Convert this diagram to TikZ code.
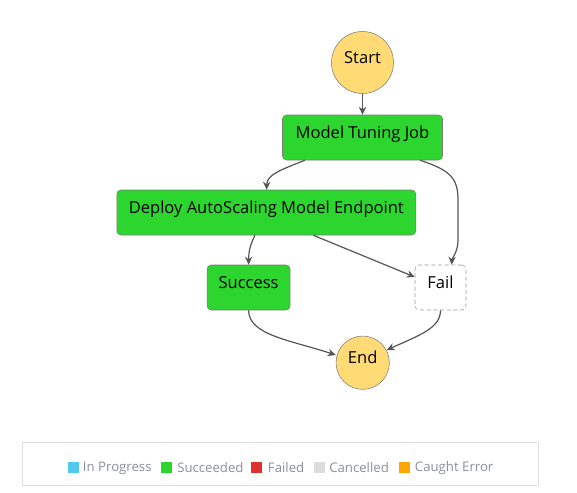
\documentclass[tikz,border=0pt]{standalone}
\usepackage{fontspec}
\setmainfont{Open Sans}
\usetikzlibrary{calc}
\usetikzlibrary{arrows.meta}

\definecolor{succeeded}{RGB}{44,214,46}
\definecolor{terminal}{RGB}{255,218,117}
\definecolor{edgegray}{RGB}{85,85,85}
\definecolor{rimgray}{RGB}{120,125,120}
\definecolor{inprogress}{RGB}{83,201,237}
\definecolor{failed}{RGB}{222,50,47}
\definecolor{cancelled}{RGB}{221,221,221}
\definecolor{caught}{RGB}{255,165,0}
\definecolor{legendtext}{RGB}{135,145,155}

\tikzset{
  state/.style={draw=rimgray, fill=succeeded, rounded corners=3pt, minimum height=33.75pt,
    text height=7pt, text depth=5.6pt, inner sep=0pt, font=\fontsize{12.4}{14}\selectfont},
  terminalstate/.style={circle, draw=rimgray, fill=terminal, inner sep=0pt,
    text height=7pt, text depth=5.6pt, font=\fontsize{12.4}{14}\selectfont},
  failstate/.style={state, fill=white, draw=gray!80, dashed, dash pattern=on 3pt off 2pt},
  flow/.style={draw=edgegray, line width=0.9pt, -{Stealth[length=6pt,width=5.5pt]}},
  swatch/.style={inner sep=0pt, minimum size=8.25pt},
  legendlabel/.style={anchor=west, inner sep=0pt, text=legendtext, font=\fontsize{9.9}{11}\selectfont}
}

\begin{document}
\begin{tikzpicture}[x=0.75pt,y=0.75pt,yscale=-1,xscale=1]
\useasboundingbox (0,0) rectangle (577,492);

% States
\node[terminalstate, minimum size=46.5pt] (start) at (362.5,62.5) {Start};
\node[state, minimum width=120pt] (tuning) at (362.5,137.5) {Model Tuning Job};
\node[state, minimum width=224.25pt] (deploy) at (266.3,212.5) {Deploy AutoScaling Model Endpoint};
\node[state, minimum width=62.25pt] (success) at (248.6,287.5) {Success};
\node[failstate, minimum width=38.25pt] (fail) at (440.5,287.5) {Fail};
\node[terminalstate, minimum size=40pt] (end) at (362.7,362.7) {End};

% Transitions
\draw[flow] (start) -- (tuning);
\draw[flow] ($(tuning.south)+(-57.5,0)$) .. controls (280,170) and (266.7,175) .. ($(deploy.north)+(0.4,0)$);
\draw[flow] ($(tuning.south)+(57.5,0)$) .. controls (450,170) and (458,178) .. (458,200) -- (458,240) .. controls (458,252) and (452,258) .. ($(fail.north)+(11.2,0)$);
\draw[flow] ($(deploy.south)+(-11.3,0)$) .. controls (250,245) and (248.6,252) .. (success.north);
\draw[flow] ($(deploy.south)+(47,0)$) -- ($(fail.west)+(0,-10.5)$);
\draw[flow] (success.south) .. controls (248.6,335) and (290,340) .. (end.west |- 0,355);
\draw[flow] (fail.south) .. controls (440.5,328) and (420,335) .. ($(end.center)+(24,-12.7)$);

% Legend
\draw[cancelled, line width=0.75pt] (22.7,442.3) rectangle (538.3,485.7);
\node[swatch, fill=inprogress] (sq1) at (73,467.2) {};
\node[legendlabel] (lab1) at (82.7,468) {In Progress};
\node[swatch, fill=succeeded] (sq2) at (166.7,467.2) {};
\node[legendlabel] (lab2) at (177,468) {Succeeded};
\node[swatch, fill=failed] (sq3) at (256.5,467.2) {};
\node[legendlabel] (lab3) at (267.7,468) {Failed};
\node[swatch, fill=cancelled] (sq4) at (319,467.2) {};
\node[legendlabel] (lab4) at (329,468) {Cancelled};
\node[swatch, fill=caught] (sq5) at (404.5,467.2) {};
\node[legendlabel] (lab5) at (414.7,468) {Caught Error};

\end{tikzpicture}
\end{document}
